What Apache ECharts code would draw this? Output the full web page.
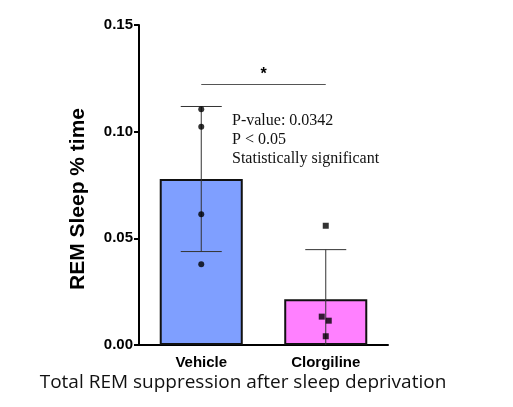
<!DOCTYPE html>
<html>
<head>
<meta charset="utf-8">
<script src="https://cdn.jsdelivr.net/npm/echarts@6/dist/echarts.min.js"></script>
<style>
html,body{margin:0;padding:0;background:#fff;}
#chart{width:513px;height:407px;}
</style>
</head>
<body>
<div id="chart"></div>
<script>
// Data
var categories = ['Vehicle', 'Clorgiline'];
var means = [0.0778, 0.0214];
var sds = [0.0340, 0.0233];
var vehiclePoints = [0.1105, 0.1023, 0.0613, 0.0378];
var clorgilinePoints = [0.0559, 0.0133, 0.0114, 0.0041];
var clorgilineJitter = [0, -4, 3, 0];
var yTicks = [0, 0.05, 0.10, 0.15];
var sigLevel = 0.1224;
var annotationLines = ['P-value: 0.0342', 'P < 0.05', 'Statistically significant'];
var yAxisTitle = 'REM Sleep % time';
var chartTitle = 'Total REM suppression after sleep deprivation';

var barColors = ['#7f9fff', '#ff80ff'];

var chart = echarts.init(document.getElementById('chart'), null, {renderer: 'canvas'});

var errData = categories.map(function (c, i) { return [i, means[i], sds[i]]; });

var option = {
  animation: false,
  grid: {left: 139, right: 125, top: 25, bottom: 62},
  xAxis: {
    type: 'category',
    data: categories,
    axisLine: {lineStyle: {color: '#000', width: 2}},
    axisTick: {alignWithLabel: true, length: 5, lineStyle: {color: '#000', width: 2}},
    axisLabel: {color: '#000', fontFamily: 'Liberation Sans', fontWeight: 'bold', fontSize: 15, margin: 10}
  },
  yAxis: {
    type: 'value',
    min: yTicks[0],
    max: yTicks[yTicks.length - 1],
    interval: 0.05,
    splitLine: {show: false},
    axisLine: {show: true, lineStyle: {color: '#000', width: 2}},
    axisTick: {show: true, length: 5, lineStyle: {color: '#000', width: 2}},
    axisLabel: {
      color: '#000', fontFamily: 'Liberation Sans', fontWeight: 'bold', fontSize: 15, margin: 6,
      formatter: function (v) { return v.toFixed(2); }
    }
  },
  series: [
    {
      type: 'bar',
      barWidth: '66.7%',
      data: means.map(function (m, i) {
        return {value: m, itemStyle: {color: barColors[i], borderColor: '#111', borderWidth: 2}};
      }),
      z: 1,
      markLine: {
        silent: true,
        symbol: ['none', 'none'],
        lineStyle: {color: '#555', width: 1, type: 'solid'},
        label: {show: true, position: 'middle', formatter: '*', color: '#000', fontSize: 16, fontWeight: 'bold', distance: 1},
        data: [[{coord: [categories[0], sigLevel]}, {coord: [categories[1], sigLevel]}]]
      }
    },
    {
      type: 'custom',
      z: 3,
      data: errData,
      renderItem: function (params, api) {
        var i = api.value(0), m = api.value(1), s = api.value(2);
        var lo = Math.max(0, m - s), hi = m + s;
        var pHi = api.coord([i, hi]);
        var pLo = api.coord([i, lo]);
        var half = 20.5;
        var style = {stroke: '#333', lineWidth: 1};
        var children = [
          {type: 'line', shape: {x1: pHi[0], y1: pHi[1], x2: pLo[0], y2: pLo[1]}, style: style},
          {type: 'line', shape: {x1: pHi[0] - half, y1: pHi[1], x2: pHi[0] + half, y2: pHi[1]}, style: style}
        ];
        if (m - s > 0) {
          children.push({type: 'line', shape: {x1: pLo[0] - half, y1: pLo[1], x2: pLo[0] + half, y2: pLo[1]}, style: style});
        }
        return {type: 'group', children: children};
      }
    },
    {
      type: 'scatter',
      z: 4,
      symbol: 'circle',
      symbolSize: 6,
      itemStyle: {color: '#000'},
      data: vehiclePoints.map(function (v) { return [0, v]; })
    },
    {
      type: 'scatter',
      z: 4,
      symbol: 'rect',
      symbolSize: 6,
      itemStyle: {color: '#000'},
      data: clorgilinePoints.map(function (v, k) { return {value: [1, v], symbolOffset: [clorgilineJitter[k], 0]}; })
    }
  ],
  graphic: [
    {
      type: 'text',
      left: 232, top: 111,
      style: {
        text: annotationLines.join('\n'),
        fill: '#111',
        font: '16px "Liberation Serif"',
        lineHeight: 19
      }
    },
    {
      type: 'text',
      x: 78, y: 199,
      rotation: Math.PI / 2,
      style: {
        text: yAxisTitle,
        fill: '#000',
        font: 'bold 21px "Liberation Sans"',
        textAlign: 'center',
        textVerticalAlign: 'middle'
      }
    },
    {
      type: 'text',
      x: 243, y: 383,
      style: {
        text: chartTitle,
        fill: '#111',
        font: '19px "Open Sans"',
        textAlign: 'center',
        textVerticalAlign: 'middle'
      }
    }
  ]
};
chart.setOption(option);
</script>
</body>
</html>
